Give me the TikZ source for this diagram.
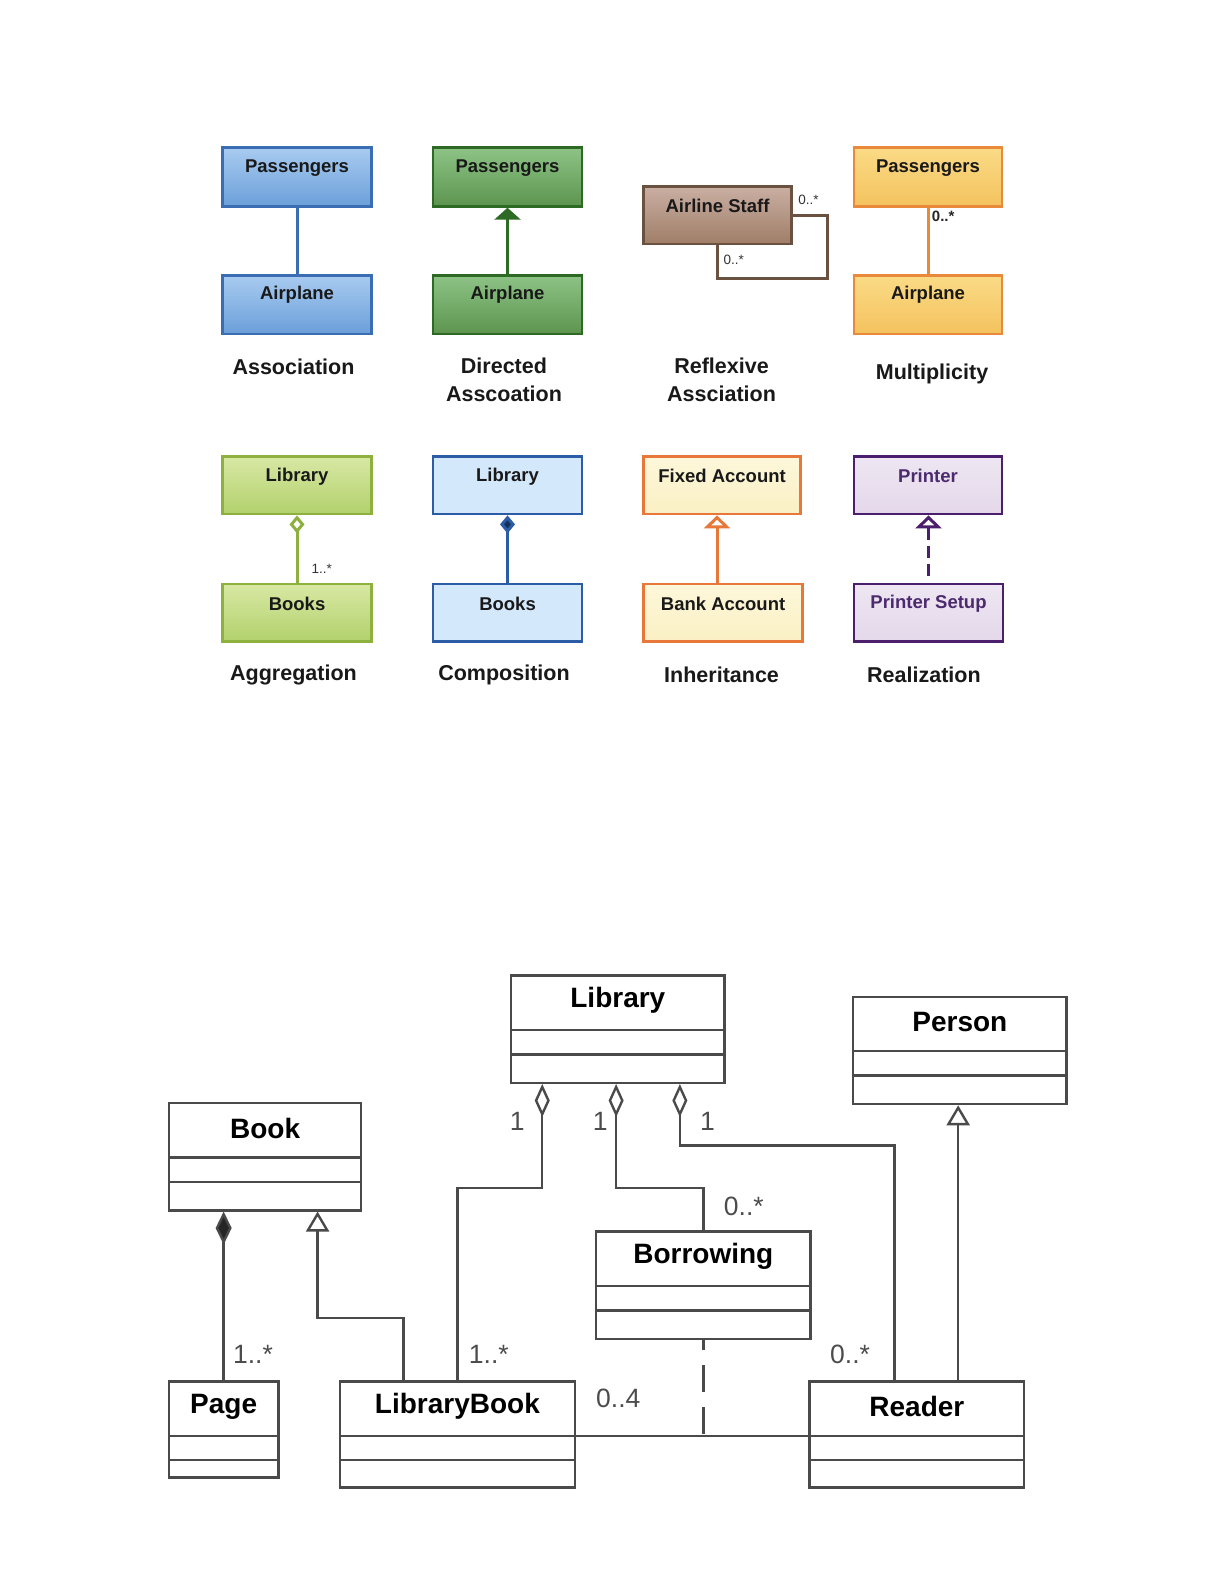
\documentclass[tikz,border=0pt]{standalone}
\usepackage{fontspec}
\setmainfont{Liberation Sans}
\usetikzlibrary{arrows.meta,calc,fit}
\definecolor{blueT}{HTML}{A8CBF0}\definecolor{blueB}{HTML}{6B9FD9}\definecolor{blueD}{HTML}{3B6DB3}
\definecolor{greenT}{HTML}{8DC486}\definecolor{greenB}{HTML}{5C944F}\definecolor{greenD}{HTML}{2D6A23}
\definecolor{brownT}{HTML}{C9AFA3}\definecolor{brownB}{HTML}{A07E68}\definecolor{brownD}{HTML}{6B5140}
\definecolor{orangeT}{HTML}{FADB86}\definecolor{orangeB}{HTML}{F4C25E}\definecolor{orangeD}{HTML}{E98A3B}
\definecolor{limeT}{HTML}{D8E8A4}\definecolor{limeB}{HTML}{B2D16C}\definecolor{limeD}{HTML}{8DB03F}
\definecolor{lblueF}{HTML}{D4E8FC}\definecolor{lblueD}{HTML}{2C5CA6}\definecolor{navy}{HTML}{14325C}
\definecolor{creamT}{HTML}{FDF7DA}\definecolor{creamB}{HTML}{FBF0C4}\definecolor{creamD}{HTML}{E8773A}
\definecolor{lavT}{HTML}{EEE6F2}\definecolor{lavB}{HTML}{E4D8EA}\definecolor{lavD}{HTML}{4B1F6E}\definecolor{lavText}{HTML}{4B2A6E}
\definecolor{cgray}{HTML}{4A4A4A}
\newcommand{\tbox}[8]{%
  \node[#7, fit={(#2,#3) (#4,#5)}] (#1) {};
  \node[btext, text=#8] (#1-t) at ($(#1.north)+(0,21)$) {#6};}
\newcommand{\classbox}[6]{%
  \node[cbox, fit={(#2,#3) (#4,#5)}] (#1) {};
  \node[ctitle] (#1-t) at ($(#1.north)+(0,26)$) {#6};
  \draw[cline] ($(#1.north west)+(0,55)$) -- ($(#1.north east)+(0,55)$);
  \draw[cline] ($(#1.north west)+(0,79)$) -- ($(#1.north east)+(0,79)$);}
\begin{document}
\begin{tikzpicture}[x=1.012pt,y=-1.012pt,
  btext/.style={font=\bfseries\fontsize{18.5}{21}\selectfont, inner sep=0pt},
  captxt/.style={font=\bfseries\fontsize{21.5}{28}\selectfont, align=center, inner sep=0pt, text=black!90},
  smalltxt/.style={font=\fontsize{13.5}{15}\selectfont, inner sep=0pt, text=black!80},
  tb/.style={draw, line width=2.6pt, inner sep=0pt},
  bluebox/.style={tb, draw=blueD, top color=blueT, bottom color=blueB},
  greenbox/.style={tb, draw=greenD, top color=greenT, bottom color=greenB},
  brownbox/.style={tb, draw=brownD, top color=brownT, bottom color=brownB},
  orangebox/.style={tb, draw=orangeD, top color=orangeT, bottom color=orangeB},
  limebox/.style={tb, draw=limeD, top color=limeT, bottom color=limeB},
  lbluebox/.style={tb, draw=lblueD, fill=lblueF},
  creambox/.style={tb, draw=creamD, top color=creamT, bottom color=creamB},
  lavbox/.style={tb, draw=lavD, top color=lavT, bottom color=lavB},
  conn/.style={line width=3pt},
  cbox/.style={draw=cgray, line width=2.4pt, inner sep=0pt},
  cline/.style={draw=cgray, line width=2.4pt},
  ctitle/.style={font=\bfseries\fontsize{28}{31}\selectfont, inner sep=0pt},
  multtxt/.style={font=\fontsize{26.5}{29}\selectfont, inner sep=0pt, text=black!70},
  bconn/.style={draw=cgray, line width=2.4pt},
]
\useasboundingbox[fill=white] (0,0) rectangle (1209.49,1565.22);

% ---------- Row 1 ----------
\tbox{pa1}{220}{146}{367}{204}{Passengers}{bluebox}{black!90}
\tbox{ap1}{220}{272}{367}{330}{Airplane}{bluebox}{black!90}
\draw[conn, draw=blueD] (pa1.south) -- (ap1.north);
\node[captxt] (c1) at (290,362) {Association};

\tbox{pa2}{428}{146}{575}{204}{Passengers}{greenbox}{black!90}
\tbox{ap2}{428}{272}{575}{330}{Airplane}{greenbox}{black!90}
\draw[conn, draw=greenD, -{Triangle[length=12pt,width=26pt]}] (ap2.north) -- (pa2.south);
\node[captxt] (c2) at (498,375.5) {Directed\\Asscoation};

\tbox{st}{636}{184}{782}{241}{Airline Staff}{brownbox}{black!90}
\draw[conn, draw=brownD] (st.east) -| ($(st.east)+(34,63)$) -| (st.south);
\node[smalltxt] (r1) at (799,197) {0..*};
\node[smalltxt] (r2) at (725,257) {0..*};
\node[captxt] (c3) at (713,375.5) {Reflexive\\Assciation};

\tbox{pa4}{844}{146}{990}{204}{Passengers}{orangebox}{black!90}
\tbox{ap4}{844}{272}{990}{330}{Airplane}{orangebox}{black!90}
\draw[conn, draw=orangeD] (pa4.south) -- (ap4.north);
\node[smalltxt, font=\bfseries\fontsize{15}{17}\selectfont, text=black!85] (mu1) at (932,214) {0..*};
\node[captxt] (c4) at (921,370) {Multiplicity};

% ---------- Row 2 ----------
\tbox{lb1}{220}{451}{367}{508}{Library}{limebox}{black!90}
\tbox{bk1}{220}{577}{367}{634}{Books}{limebox}{black!90}
\draw[conn, draw=limeD, {Diamond[length=18pt,width=15pt,fill=white]}-] (lb1.south) -- (bk1.north);
\node[smalltxt] (ag1) at (318,562) {1..*};
\node[captxt] (c5) at (290,667) {Aggregation};

\tbox{lb2}{428}{451}{575}{508}{Library}{lbluebox}{black!90}
\tbox{bk2}{428}{577}{575}{634}{Books}{lbluebox}{black!90}
\draw[conn, draw=lblueD, {Diamond[length=18pt,width=15pt,fill=navy]}-] (lb2.south) -- (bk2.north);
\node[captxt] (c6) at (498,667) {Composition};

\tbox{fa}{636}{451}{791}{508}{Fixed Account}{creambox}{black!90}
\tbox{ba}{636}{577}{793}{634}{Bank Account}{creambox}{black!90}
\draw[conn, draw=creamD, -{Triangle[length=13pt,width=26pt,fill=white]}] ($(ba.north)+(-6,0)$) -- ($(ba.north |- fa.south)+(-6,0)$);
\node[captxt] (c7) at (713,667) {Inheritance};

\tbox{pr}{844}{451}{990}{508}{Printer}{lavbox}{lavText}
\tbox{ps}{844}{577}{991}{634}{Printer Setup}{lavbox}{lavText}
\draw[conn, draw=lavD, dash pattern=on 12pt off 6pt, shorten <=7pt, -{Triangle[length=13pt,width=26pt,fill=white]}] (ps.north) -- (ps.north |- pr.south);
\node[captxt] (c8) at (913,667) {Realization};

% ---------- Bottom class diagram ----------
\classbox{lib}{505}{964}{716}{1070}{Library}
\classbox{person}{843}{985}{1054}{1091}{Person}
\classbox{book}{167}{1090}{357}{1196}{Book}
\classbox{borrow}{589}{1217}{801}{1323}{Borrowing}
\classbox{page}{167}{1365}{275}{1460}{Page}
\classbox{lbook}{336}{1365}{568}{1470}{LibraryBook}
\classbox{reader}{800}{1365}{1012}{1470}{Reader}

% Library aggregations
\draw[bconn, {Diamond[length=33pt,width=15pt,fill=white]}-] ($(lib.south west)+(32,0)$) |- ($(lbook.north)+(0,-190)$) -- (lbook.north);
\draw[bconn, {Diamond[length=33pt,width=15pt,fill=white]}-] ($(lib.south west)+(105,0)$) |- ($(borrow.north)+(0,-42)$) -- (borrow.north);
\draw[bconn, {Diamond[length=33pt,width=15pt,fill=white]}-] ($(lib.south west)+(168,0)$) |- ($(reader.north west)+(85,-232)$) -- ($(reader.north west)+(85,0)$);
% Person generalisation
\draw[bconn, -{Triangle[length=20pt,width=23pt,fill=white]}] ($(reader.north west)+(148,0)$) -- ($(reader.north west |- person.south)+(148,0)$);
% Book composition
\draw[bconn, -{Diamond[length=33pt,width=16pt,fill=black!85]}] (page.north) -- (page.north |- book.south);
% Book generalisation
\draw[bconn, -{Triangle[length=20pt,width=23pt,fill=white]}] ($(lbook.north west)+(64,0)$) |- ($(book.south west)+(148,105)$) -- ($(book.south west)+(148,0)$);
% LibraryBook -- Reader with association class Borrowing
\coordinate (bj) at ($(borrow.south)+(0,95)$);
\draw[bconn] (lbook.east |- bj) -- (reader.west |- bj);
\draw[bconn, dash pattern=on 27pt off 15pt, dash phase=17pt] (borrow.south) -- (bj);

% multiplicities
\node[multtxt] (m1) at (511,1108) {1};
\node[multtxt] (m2) at (593,1108) {1};
\node[multtxt] (m3) at (699,1108) {1};
\node[multtxt] (m4) at (735,1192) {0..*};
\node[multtxt] (m5) at (250,1338) {1..*};
\node[multtxt] (m6) at (483,1338) {1..*};
\node[multtxt] (m7) at (840,1338) {0..*};
\node[multtxt] (m8) at (611,1382) {0..4};
\end{tikzpicture}
\end{document}
